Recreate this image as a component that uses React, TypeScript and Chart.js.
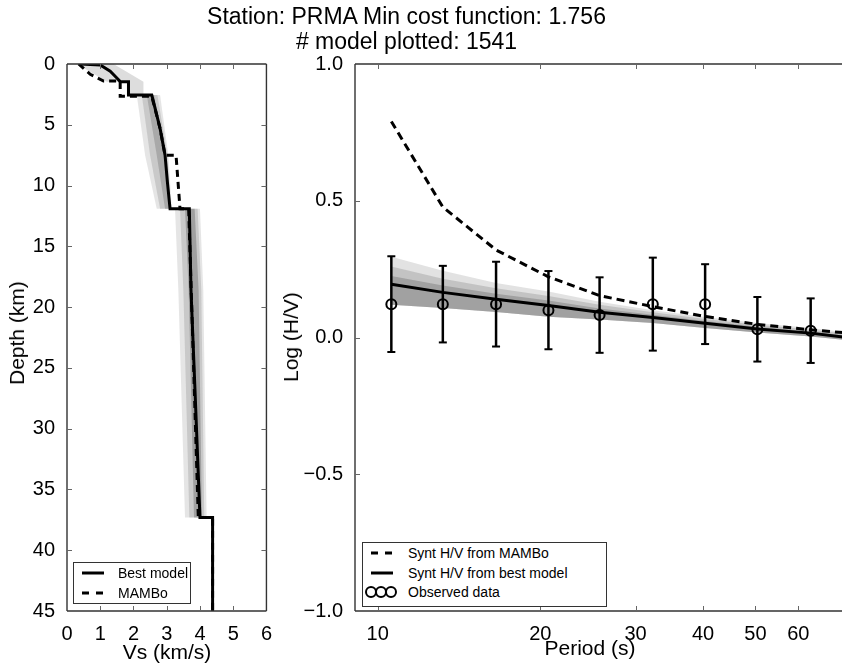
import React, { useEffect, useRef } from 'react';
import { Chart, registerables } from 'chart.js';

Chart.register(...registerables);

const FONT = '"Liberation Sans", Arial, Helvetica, sans-serif';

// ---------- Left panel: shear-velocity profiles ----------
const vsTicks = [0, 1, 2, 3, 4, 5, 6];
const depthTicks = [0, 5, 10, 15, 20, 25, 30, 35, 40, 45];

const bestVs = [0.4, 1.0, 1.3, 1.5, 1.6, 1.85, 1.85, 2.55, 2.8, 2.95, 3.02, 3.1, 3.68, 3.73, 3.85, 4.0, 4.38, 4.38];
const bestDepth = [0, 0.08, 0.6, 1.15, 1.45, 1.45, 2.55, 2.55, 5.3, 7.5, 9.7, 11.9, 11.9, 18.6, 26.8, 37.3, 37.3, 45];

const mamboVs = [0.35, 0.7, 1.1, 1.6, 1.6, 2.55, 2.8, 2.95, 3.28, 3.4, 3.66, 3.95, 4.38, 4.38];
const mamboDepth = [0, 0.85, 1.4, 1.4, 2.65, 2.65, 5.3, 7.5, 7.5, 11.9, 11.9, 37.3, 37.3, 45];

// envelopes of the plotted model ensemble (closed outlines)
const topBandVs = [0.3, 1.2, 1.8, 1.8, 2.3, 2.3, 1.4];
const topBandDepth = [0, 1.45, 1.45, 2.55, 2.55, 1.45, 0];
const midOuterVs = [2.1, 2.35, 2.7, 3.15, 3.05, 2.8];
const midOuterDepth = [2.55, 7.5, 11.9, 11.9, 7.5, 2.55];
const midMiddleVs = [2.25, 2.5, 2.8, 3.12, 3.02, 2.72];
const midMiddleDepth = [2.55, 7.5, 11.9, 11.9, 7.5, 2.55];
const midInnerVs = [2.4, 2.7, 2.95, 3.1, 2.98, 2.62];
const midInnerDepth = [2.55, 7.5, 11.9, 11.9, 7.5, 2.55];
const crustOuterVs = [3.25, 3.35, 3.55, 4.2, 4.1, 4.0];
const crustOuterDepth = [11.9, 18.6, 37.3, 37.3, 18.6, 11.9];
const crustMiddleVs = [3.4, 3.5, 3.68, 4.13, 4.04, 3.93];
const crustMiddleDepth = [11.9, 18.6, 37.3, 37.3, 18.6, 11.9];
const crustInnerVs = [3.55, 3.66, 3.82, 4.06, 3.96, 3.84];
const crustInnerDepth = [11.9, 18.6, 37.3, 37.3, 18.6, 11.9];

// ---------- Right panel: H/V curves ----------
const periodTicks = [10, 20, 30, 40, 50, 60];
const hvTicks = [-1, -0.5, 0, 0.5, 1];

const periods = [10.6, 13.2, 16.56, 20.7, 25.74, 32.29, 40.35, 50.41, 63.26];
const obsHV = [0.122, 0.122, 0.122, 0.1, 0.082, 0.122, 0.122, 0.03, 0.025];
const obsErr = [0.175, 0.14, 0.155, 0.143, 0.138, 0.17, 0.146, 0.118, 0.118];

const curvePeriods = [10.6, 13.2, 16.56, 20.7, 25.74, 32.29, 40.35, 50.41, 63.26, 72.6];
const bestHV = [0.195, 0.165, 0.14, 0.117, 0.092, 0.073, 0.052, 0.031, 0.016, 0.002];
const mamboHV = [0.79, 0.477, 0.32, 0.222, 0.153, 0.113, 0.077, 0.048, 0.028, 0.018];
const ensUpper = [0.295, 0.244, 0.199, 0.168, 0.131, 0.1, 0.075, 0.053, 0.035, 0.02];
const ensMid = [0.26, 0.215, 0.18, 0.152, 0.12, 0.092, 0.068, 0.047, 0.029, 0.015];
const ensCore = [0.225, 0.19, 0.16, 0.135, 0.106, 0.083, 0.06, 0.039, 0.022, 0.008];
const ensLower = [0.12, 0.108, 0.093, 0.076, 0.066, 0.053, 0.035, 0.018, 0.004, -0.008];

const zip = (xs: number[], ys: number[]) => xs.map((x, i) => ({ x, y: ys[i] }));

const framePlugin = {
  id: 'frame',
  afterDatasetsDraw(chart: any, _args: any, opts: any) {
    const { ctx, chartArea: a } = chart;
    const xs = chart.scales.x;
    const ys = chart.scales.y;
    const tl = 5;
    ctx.save();
    ctx.strokeStyle = '#333';
    ctx.lineWidth = 1.4;
    ctx.beginPath();
    ctx.moveTo(a.left, a.top);
    ctx.lineTo(a.left, a.bottom);
    ctx.moveTo(a.left, a.top);
    ctx.lineTo(a.right, a.top);
    ctx.moveTo(a.left, a.bottom);
    ctx.lineTo(a.right, a.bottom);
    if (opts.right) {
      ctx.moveTo(a.right, a.top);
      ctx.lineTo(a.right, a.bottom);
    }
    ctx.stroke();
    ctx.strokeStyle = '#666';
    ctx.lineWidth = 1;
    ctx.beginPath();
    for (const t of xs.ticks) {
      const px = Math.round(xs.getPixelForValue(t.value)) + 0.5;
      if (px <= a.left + 1 || px >= a.right - 1) continue;
      ctx.moveTo(px, a.top);
      ctx.lineTo(px, a.top + tl);
      ctx.moveTo(px, a.bottom);
      ctx.lineTo(px, a.bottom - tl);
    }
    for (const t of ys.ticks) {
      const py = Math.round(ys.getPixelForValue(t.value)) + 0.5;
      if (py <= a.top + 1 || py >= a.bottom - 1) continue;
      ctx.moveTo(a.left, py);
      ctx.lineTo(a.left + tl, py);
      if (opts.right) {
        ctx.moveTo(a.right, py);
        ctx.lineTo(a.right - tl, py);
      }
    }
    ctx.stroke();
    ctx.restore();
  },
};

const tickFont = { family: FONT, size: 20 };

function leftConfig(): any {
  const band = (vs: number[], d: number[], color: string, order: number) => ({
    data: zip(vs, d),
    showLine: true,
    fill: 'shape',
    backgroundColor: color,
    borderWidth: 0,
    pointRadius: 0,
    order,
  });
  return {
    type: 'scatter',
    data: {
      datasets: [
        {
          label: 'Best model',
          data: zip(bestVs, bestDepth),
          showLine: true,
          borderColor: '#000',
          borderWidth: 3,
          pointRadius: 0,
          fill: false,
          order: 1,
        },
        {
          label: 'MAMBo',
          data: zip(mamboVs, mamboDepth),
          showLine: true,
          borderColor: '#000',
          borderWidth: 3,
          borderDash: [7, 5],
          pointRadius: 0,
          fill: false,
          order: 2,
        },
        band(topBandVs, topBandDepth, 'rgba(170,170,170,0.4)', 7),
        band(midOuterVs, midOuterDepth, 'rgba(180,180,180,0.35)', 7),
        band(midMiddleVs, midMiddleDepth, 'rgba(150,150,150,0.35)', 6),
        band(midInnerVs, midInnerDepth, 'rgba(110,110,110,0.35)', 5),
        band(crustOuterVs, crustOuterDepth, 'rgba(180,180,180,0.35)', 7),
        band(crustMiddleVs, crustMiddleDepth, 'rgba(150,150,150,0.35)', 6),
        band(crustInnerVs, crustInnerDepth, 'rgba(100,100,100,0.4)', 5),
      ],
    },
    options: {
      animation: false,
      responsive: false,
      events: [],
      layout: { padding: { top: 64, right: 8, left: 0, bottom: 0 } },
      plugins: { legend: { display: false }, tooltip: { enabled: false }, frame: { right: true } },
      scales: {
        x: {
          type: 'linear',
          min: 0,
          max: 6,
          grid: { display: false },
          border: { display: false },
          afterBuildTicks: (s: any) => { s.ticks = vsTicks.map((v) => ({ value: v })); },
          afterFit: (s: any) => { s.height = 55; },
          ticks: { color: '#000', font: tickFont, padding: 3, maxRotation: 0, autoSkip: false, callback: (v: any) => String(v) },
        },
        y: {
          type: 'linear',
          reverse: true,
          min: 0,
          max: 45,
          grid: { display: false },
          border: { display: false },
          afterBuildTicks: (s: any) => { s.ticks = depthTicks.map((v) => ({ value: v })); },
          afterFit: (s: any) => { s.width = 67; },
          ticks: { color: '#000', font: tickFont, padding: 4, autoSkip: false, callback: (v: any) => String(v) },
        },
      },
    },
    plugins: [framePlugin],
  };
}

function rightConfig(): any {
  const errorBars = periods.map((p, i) => ({
    data: [
      { x: p, y: obsHV[i] - obsErr[i] },
      { x: p, y: obsHV[i] + obsErr[i] },
    ],
    showLine: true,
    borderColor: '#000',
    borderWidth: 2.5,
    pointStyle: 'line',
    pointRadius: 4,
    pointBorderWidth: 2,
    pointBorderColor: '#000',
    fill: false,
    order: 2,
  }));
  const env = (label: string, ys: number[], fill: any, color: string, order: number) => ({
    label,
    data: zip(curvePeriods, ys),
    showLine: true,
    borderWidth: 0,
    pointRadius: 0,
    fill,
    backgroundColor: color,
    order,
  });
  return {
    type: 'scatter',
    data: {
      datasets: [
        {
          label: 'Observed data',
          data: zip(periods, obsHV),
          showLine: false,
          pointStyle: 'circle',
          pointRadius: 5,
          pointBorderWidth: 2,
          pointBorderColor: '#000',
          pointBackgroundColor: 'rgba(0,0,0,0)',
          order: 0,
        },
        {
          label: 'Synt H/V from MAMBo',
          data: zip(curvePeriods, mamboHV),
          showLine: true,
          borderColor: '#000',
          borderWidth: 3,
          borderDash: [8, 5],
          pointRadius: 0,
          fill: false,
          order: 1,
        },
        {
          label: 'Synt H/V from best model',
          data: zip(curvePeriods, bestHV),
          showLine: true,
          borderColor: '#000',
          borderWidth: 3,
          pointRadius: 0,
          fill: false,
          order: 1,
        },
        ...errorBars,
        env('ens upper', ensUpper, '+3', 'rgba(190,190,190,0.45)', 7),
        env('ens mid', ensMid, '+2', 'rgba(150,150,150,0.4)', 6),
        env('ens core', ensCore, '+1', 'rgba(110,110,110,0.4)', 5),
        env('ens lower', ensLower, false, 'rgba(0,0,0,0)', 8),
      ],
    },
    options: {
      animation: false,
      responsive: false,
      events: [],
      layout: { padding: { top: 64, right: 0, left: 0, bottom: 0 } },
      plugins: { legend: { display: false }, tooltip: { enabled: false }, frame: { right: false } },
      scales: {
        x: {
          type: 'logarithmic',
          min: 9.08,
          max: 72.6,
          grid: { display: false },
          border: { display: false },
          afterBuildTicks: (s: any) => { s.ticks = periodTicks.map((v) => ({ value: v })); },
          afterFit: (s: any) => { s.height = 55; },
          ticks: { color: '#000', font: tickFont, padding: 3, maxRotation: 0, autoSkip: false, callback: (v: any) => String(v) },
        },
        y: {
          type: 'linear',
          min: -1,
          max: 1,
          grid: { display: false },
          border: { display: false },
          afterBuildTicks: (s: any) => { s.ticks = hvTicks.map((v) => ({ value: v })); },
          afterFit: (s: any) => { s.width = 55; },
          ticks: {
            color: '#000',
            font: tickFont,
            padding: 4,
            autoSkip: false,
            callback: (v: any) => Number(v).toFixed(1).replace('-', '\u2212'),
          },
        },
      },
    },
    plugins: [framePlugin],
  };
}

const txt: React.CSSProperties = { position: 'absolute', whiteSpace: 'nowrap', color: '#000', fontFamily: FONT };

function SolidHandle() {
  return (
    <svg width="24" height="8" style={{ display: 'block' }}>
      <line x1="1" y1="4" x2="23" y2="4" stroke="#000" strokeWidth="3" />
    </svg>
  );
}
function DashHandle() {
  return (
    <svg width="24" height="8" style={{ display: 'block' }}>
      <line x1="1" y1="4" x2="23" y2="4" stroke="#000" strokeWidth="3" strokeDasharray="7 7" />
    </svg>
  );
}
function CircleHandle() {
  return (
    <svg width="34" height="14" style={{ display: 'block' }}>
      <circle cx="7" cy="7" r="5" fill="none" stroke="#000" strokeWidth="2" />
      <circle cx="17" cy="7" r="5" fill="none" stroke="#000" strokeWidth="2" />
      <circle cx="27" cy="7" r="5" fill="none" stroke="#000" strokeWidth="2" />
    </svg>
  );
}

export default function App() {
  const leftRef = useRef<HTMLCanvasElement>(null);
  const rightRef = useRef<HTMLCanvasElement>(null);

  useEffect(() => {
    const left = new Chart(leftRef.current as HTMLCanvasElement, leftConfig());
    const right = new Chart(rightRef.current as HTMLCanvasElement, rightConfig());
    return () => {
      left.destroy();
      right.destroy();
    };
  }, []);

  const legendText: React.CSSProperties = { fontSize: 14, lineHeight: '16px' };

  return (
    <div style={{ position: 'absolute', left: 0, top: 0, width: 842, height: 666, overflow: 'hidden', background: '#fff' }}>
      <canvas ref={leftRef} width={275} height={666} style={{ position: 'absolute', left: 0, top: 0 }} />
      <canvas ref={rightRef} width={550} height={666} style={{ position: 'absolute', left: 300, top: 0 }} />

      <div style={{ ...txt, left: 0, top: 4, width: 813, textAlign: 'center', fontSize: 23, lineHeight: '25px' }}>
        Station: PRMA Min cost function: 1.756
        <br /># model plotted: 1541
      </div>

      <div style={{ ...txt, left: 17, top: 333, fontSize: 21, transform: 'translate(-50%, -50%) rotate(-90deg)' }}>Depth (km)</div>
      <div style={{ ...txt, left: 167, top: 652, fontSize: 21, transform: 'translate(-50%, -50%)' }}>Vs (km/s)</div>
      <div style={{ ...txt, left: 291, top: 337, fontSize: 21, transform: 'translate(-50%, -50%) rotate(-90deg)' }}>Log (H/V)</div>
      <div style={{ ...txt, left: 590, top: 648, fontSize: 21, transform: 'translate(-50%, -50%)' }}>Period (s)</div>

      {/* left legend */}
      <div style={{ position: 'absolute', left: 73, top: 562, width: 118, height: 42, border: '1px solid #333', background: '#fff', boxSizing: 'border-box' }} />
      <div style={{ position: 'absolute', left: 81, top: 569 }}><SolidHandle /></div>
      <div style={{ ...txt, ...legendText, left: 118, top: 565 }}>Best model</div>
      <div style={{ position: 'absolute', left: 81, top: 589 }}><DashHandle /></div>
      <div style={{ ...txt, ...legendText, left: 118, top: 585 }}>MAMBo</div>

      {/* right legend */}
      <div style={{ position: 'absolute', left: 362, top: 542, width: 245, height: 65, border: '1px solid #333', background: '#fff', boxSizing: 'border-box' }} />
      <div style={{ position: 'absolute', left: 370, top: 549 }}><DashHandle /></div>
      <div style={{ ...txt, ...legendText, left: 408, top: 545 }}>Synt H/V from MAMBo</div>
      <div style={{ position: 'absolute', left: 370, top: 569 }}><SolidHandle /></div>
      <div style={{ ...txt, ...legendText, left: 408, top: 565 }}>Synt H/V from best model</div>
      <div style={{ position: 'absolute', left: 364, top: 585 }}><CircleHandle /></div>
      <div style={{ ...txt, ...legendText, left: 408, top: 584 }}>Observed data</div>
    </div>
  );
}
